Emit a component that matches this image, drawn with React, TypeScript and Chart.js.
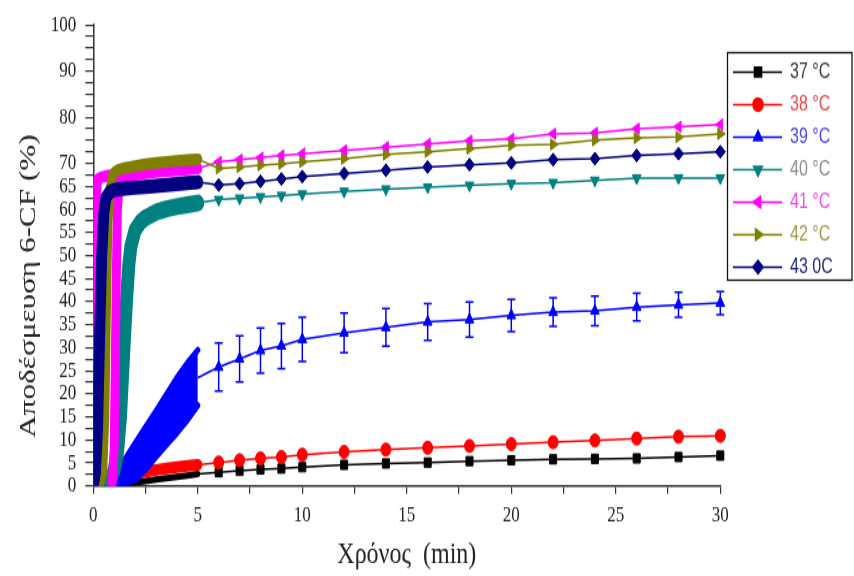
import { useEffect, useRef } from 'react';
import { Chart, registerables } from 'chart.js';
import { drawPoint } from 'chart.js/helpers';
Chart.register(...registerables);

// ---------- data ----------
const seriesNames = ['37 °C', '38 °C', '39 °C', '40 °C', '41 °C', '42 °C', '43 0C'];

// sparse sampling (min)
const sparseTimes = [6, 7, 8, 9, 10, 12, 14, 16, 18, 20, 22, 24, 26, 28, 30];
const s37 = [3.0, 3.3, 3.6, 3.8, 4.1, 4.6, 4.9, 5.1, 5.4, 5.6, 5.8, 5.9, 6.0, 6.3, 6.6];
const s38 = [5.1, 5.6, 6.0, 6.3, 6.8, 7.4, 7.9, 8.3, 8.7, 9.1, 9.5, 9.9, 10.3, 10.7, 10.9];
const s39 = [25.8, 27.6, 29.4, 30.4, 31.8, 33.2, 34.4, 35.6, 36.1, 37.0, 37.7, 38.0, 38.8, 39.3, 39.7];
const e39 = [5.2, 5.0, 4.9, 4.9, 4.8, 4.3, 4.1, 4.0, 3.8, 3.5, 3.1, 3.2, 3.0, 2.7, 2.5];
const s40 = [62.1, 62.4, 62.7, 63.0, 63.3, 63.9, 64.4, 64.8, 65.2, 65.6, 65.8, 66.3, 66.8, 66.8, 66.8];
const s41 = [70.3, 70.8, 71.2, 71.7, 72.1, 72.8, 73.5, 74.2, 74.9, 75.3, 76.4, 76.6, 77.5, 77.9, 78.4];
const s42 = [68.9, 69.2, 69.6, 69.9, 70.3, 71.0, 71.9, 72.5, 73.2, 73.9, 74.1, 75.0, 75.5, 75.7, 76.4];
const s43 = [65.3, 65.6, 66.1, 66.6, 67.1, 67.8, 68.5, 69.2, 69.7, 70.1, 70.8, 71.0, 71.7, 72.1, 72.5];

// dense sampling 0-5 min
const d37t = [0, 0.5, 1, 1.5, 2, 2.5, 3, 3.5, 4, 4.5, 5];
const d37v = [0, 0.05, 0.2, 0.5, 0.8, 1.1, 1.4, 1.7, 2.0, 2.3, 2.6];
const d38t = [0, 0.5, 1, 1.5, 2, 2.5, 3, 3.5, 4, 4.5, 5];
const d38v = [0, 0.4, 1.1, 2.0, 2.7, 3.1, 3.5, 3.8, 4.1, 4.4, 4.6];
const d39t = [0, 0.5, 1, 1.5, 2, 2.5, 3, 3.5, 4, 4.5, 5];
const d39v = [0, 0.5, 1.5, 3.2, 5.3, 8.2, 11.3, 14.4, 17.5, 20.5, 23.5];
const d39e = [0, 0.4, 1.2, 2.5, 4.0, 4.6, 5.0, 5.5, 6.0, 6.2, 6.0];
const d40t = [0, 0.4, 0.8, 1.0, 1.15, 1.3, 1.4, 1.5, 1.6, 1.7, 1.8, 2.0, 2.25, 2.5, 3.0, 3.5, 4.0, 4.5, 5.0];
const d40v = [0, 0.3, 1.2, 3.5, 7, 15, 24, 33, 41, 48, 52, 55.5, 57.2, 58.2, 59.4, 60.1, 60.6, 61.0, 61.4];
const d41aT = [0, 0.05, 0.1, 0.2, 0.4, 0.6, 0.8];
const d41aV = [0, 30, 60, 66.5, 67, 67.2, 67.4];
const d41bT = [0.9, 1.0, 1.05, 1.1, 1.15, 1.25, 1.5, 2, 2.5, 3, 3.5, 4, 4.5, 5];
const d41bV = [0.5, 8, 25, 45, 60, 66, 67, 67.5, 67.8, 68.1, 68.3, 68.5, 68.7, 68.9];
const d42t = [0, 0.3, 0.45, 0.55, 0.6, 0.65, 0.7, 0.8, 0.9, 1.0, 1.2, 1.5, 2, 2.5, 3, 3.5, 4, 4.5, 5];
const d42v = [0, 0.5, 3, 15, 30, 45, 57, 64, 67, 68, 68.6, 69, 69.4, 69.8, 70.1, 70.3, 70.5, 70.7, 70.9];
const d43t = [0, 0.1, 0.2, 0.3, 0.4, 0.5, 0.6, 0.8, 1.0, 1.5, 2, 2.5, 3, 3.5, 4, 4.5, 5];
const d43v = [0, 3, 12, 32, 50, 59, 62.5, 63.8, 64.2, 64.5, 64.7, 64.9, 65.1, 65.3, 65.5, 65.7, 65.9];

// axes
const xTickLabels = [0, 5, 10, 15, 20, 25, 30];
const xMinorStep = 2.5;
const yTickLabels = [0, 5, 10, 15, 20, 25, 30, 35, 40, 45, 50, 55, 60, 65, 70, 80, 90, 100];
const yMinorStep = 2.5;

// ---------- styles ----------
const W = 854;
const H = 443;
const STRETCH = 576 / H;
const colors = ['#000000', '#ff0000', '#0000ff', '#008080', '#ff00ff', '#808000', '#000080'];
const legendTextColors = ['#3a3a3a', '#f04848', '#4848f0', '#8e8e8e', '#f04cf0', '#9c9c48', '#262680'];
const pointStyles = ['rect', 'circle', 'triangle', 'triangle', 'triangle', 'triangle', 'rectRot'];
const rotations = [0, 0, 0, 180, -90, 90, 0];
const denseWidths = [5, 9, 5, 13, 9, 9, 11];

const pts = (ts: (number | null)[], vs: (number | null)[]) => ts.map((t, k) => ({ x: t, y: vs[k] }));

export default function App() {
  const ref = useRef<HTMLCanvasElement>(null);

  useEffect(() => {
    const denseSets: any[] = [
      pts(d37t, d37v),
      pts(d38t, d38v),
      null,
      pts(d40t, d40v),
      [...pts(d41aT, d41aV), { x: 0.85, y: null }, ...pts(d41bT, d41bV)],
      pts(d42t, d42v),
      pts(d43t, d43v),
    ];
    const sparseVals = [s37, s38, s39, s40, s41, s42, s43];
    const lastDense = [
      [d37t[d37t.length - 1], d37v[d37v.length - 1]],
      [d38t[d38t.length - 1], d38v[d38v.length - 1]],
      [d39t[d39t.length - 1], d39v[d39v.length - 1]],
      [d40t[d40t.length - 1], d40v[d40v.length - 1]],
      [d41bT[d41bT.length - 1], d41bV[d41bV.length - 1]],
      [d42t[d42t.length - 1], d42v[d42v.length - 1]],
      [d43t[d43t.length - 1], d43v[d43v.length - 1]],
    ];
    const denseClip = { left: 0, top: false, right: false, bottom: 0 };

    const datasets: any[] = [];
    for (let i = 0; i < 7; i++) {
      const c = colors[i];
      if (i === 2) {
        datasets.push({
          label: '39 upper',
          data: d39t.map((t, k) => ({ x: t, y: d39v[k] + d39e[k] })),
          borderColor: c,
          backgroundColor: c,
          borderWidth: 5,
          pointRadius: 0,
          fill: '+1',
          order: (6 - i) * 10 + 5,
          clip: denseClip,
          borderJoinStyle: 'round',
          borderCapStyle: 'round',
          isDense: true,
        });
        datasets.push({
          label: '39 lower',
          data: d39t.map((t, k) => ({ x: t, y: Math.max(0, d39v[k] - d39e[k]) })),
          borderColor: c,
          backgroundColor: c,
          borderWidth: 5,
          pointRadius: 0,
          fill: false,
          order: (6 - i) * 10 + 6,
          clip: denseClip,
          borderJoinStyle: 'round',
          borderCapStyle: 'round',
          isDense: true,
        });
      } else {
        datasets.push({
          label: seriesNames[i] + ' dense',
          data: denseSets[i],
          borderColor: c,
          backgroundColor: c,
          borderWidth: denseWidths[i],
          pointRadius: 0,
          spanGaps: false,
          fill: false,
          order: (6 - i) * 10 + 5,
          clip: denseClip,
          borderJoinStyle: 'round',
          borderCapStyle: 'round',
          isDense: true,
        });
      }
      datasets.push({
        label: seriesNames[i],
        data: [
          { x: lastDense[i][0], y: lastDense[i][1] },
          ...sparseTimes.map((t, k) => ({ x: t, y: sparseVals[i][k] })),
        ],
        errors: i === 2 ? [0, ...e39] : null,
        borderColor: c,
        backgroundColor: c,
        borderWidth: 1.5,
        pointRadius: (ctx: any) => (ctx.dataIndex === 0 ? 0 : 5),
        pointHoverRadius: 5,
        pointStyle: pointStyles[i],
        rotation: rotations[i],
        pointBorderWidth: 1,
        fill: false,
        order: (6 - i) * 10,
        clip: false,
      });
    }

    const errorBarPlugin = {
      id: 'errorBars',
      afterDatasetsDraw(chart: any) {
        const { ctx, scales } = chart;
        chart.data.datasets.forEach((ds: any) => {
          if (!ds.errors) return;
          ctx.save();
          ctx.strokeStyle = ds.borderColor;
          ctx.lineWidth = 1.5;
          ds.data.forEach((p: any, k: number) => {
            const e = ds.errors[k];
            if (!e) return;
            const x = scales.x.getPixelForValue(p.x);
            const y1 = scales.y.getPixelForValue(p.y + e);
            const y2 = scales.y.getPixelForValue(p.y - e);
            ctx.beginPath();
            ctx.moveTo(x, y1);
            ctx.lineTo(x, y2);
            ctx.moveTo(x - 4, y1);
            ctx.lineTo(x + 4, y1);
            ctx.moveTo(x - 4, y2);
            ctx.lineTo(x + 4, y2);
            ctx.stroke();
          });
          ctx.restore();
        });
      },
    };

    const overlayPlugin = {
      id: 'overlay',
      afterDraw(chart: any) {
        const { ctx } = chart;
        // y-axis title
        ctx.save();
        ctx.translate(29, 220);
        ctx.rotate(-Math.PI / 2);
        ctx.font = '24px "Liberation Serif", "Times New Roman", serif';
        ctx.fillStyle = '#222';
        ctx.textAlign = 'center';
        ctx.textBaseline = 'middle';
        ctx.fillText('Αποδέσμευση 6-CF (%)', 0, 0);
        ctx.restore();

        // legend
        ctx.save();
        const lx = 727.5, ly = 40.5, lw = 124.5, lh = 175;
        ctx.fillStyle = '#fff';
        ctx.fillRect(lx, ly, lw, lh);
        ctx.strokeStyle = '#111';
        ctx.lineWidth = 1.3;
        ctx.strokeRect(lx, ly, lw, lh);
        for (let i = 0; i < 7; i++) {
          const y = 55.4 + 25 * i;
          ctx.strokeStyle = colors[i];
          ctx.fillStyle = colors[i];
          ctx.lineWidth = 1.5;
          ctx.beginPath();
          ctx.moveTo(733, y);
          ctx.lineTo(782, y);
          ctx.stroke();
          drawPoint(ctx, { pointStyle: pointStyles[i], rotation: rotations[i], radius: 5, borderWidth: 1 } as any, 758, y);
          ctx.font = '16px "Liberation Sans", Arial, sans-serif';
          ctx.fillStyle = legendTextColors[i];
          ctx.textAlign = 'left';
          ctx.textBaseline = 'middle';
          ctx.fillText(seriesNames[i], 790, y);
        }
        ctx.restore();
      },
    };

    const tickFont = { family: '"Liberation Serif", "Times New Roman", serif', size: 17 };

    const chart = new Chart(ref.current as HTMLCanvasElement, {
      type: 'line',
      data: { datasets },
      options: {
        responsive: false,
        maintainAspectRatio: false,
        devicePixelRatio: 1,
        animation: false,
        events: [],
        layout: { padding: { left: 0, top: 16.9, right: 133.7, bottom: 0 } },
        plugins: {
          legend: { display: false },
          tooltip: { enabled: false },
        },
        scales: {
          x: {
            type: 'linear',
            min: 0,
            max: 30,
            z: 1,
            afterFit: (s: any) => { s.height = 69.2; },
            afterBuildTicks: (s: any) => {
              const t = [];
              for (let v = 0; v <= 30 + 1e-9; v += xMinorStep) t.push({ value: v });
              s.ticks = t;
            },
            ticks: {
              autoSkip: false,
              maxRotation: 0,
              padding: 7,
              color: '#222',
              font: tickFont,
              callback: (v: any) => (xTickLabels.includes(Number(v)) ? String(v) : ''),
            },
            grid: { display: true, drawOnChartArea: false, drawTicks: true, tickLength: 6, color: '#333', lineWidth: 1.2 },
            border: { display: true, color: '#333', width: 1.5 },
            title: {
              display: true,
              text: 'Χρόνος  (min)',
              color: '#222',
              font: { family: '"Liberation Serif", "Times New Roman", serif', size: 24 },
              padding: { top: 0, bottom: 2 },
            },
          },
          y: {
            type: 'linear',
            min: 0,
            max: 100,
            z: 1,
            afterFit: (s: any) => { s.width = 93.3; },
            afterBuildTicks: (s: any) => {
              const t = [];
              for (let v = 0; v <= 100 + 1e-9; v += yMinorStep) t.push({ value: v });
              s.ticks = t;
            },
            ticks: {
              autoSkip: false,
              padding: 9,
              color: '#222',
              font: tickFont,
              callback: (v: any) => (yTickLabels.includes(Number(v)) ? String(v) : ''),
            },
            grid: { display: true, drawOnChartArea: false, drawTicks: true, tickLength: 8, color: '#333', lineWidth: 1.2 },
            border: { display: true, color: '#333', width: 1.5 },
            title: { display: false },
          },
        },
      } as any,
      plugins: [errorBarPlugin, overlayPlugin],
    });
    return () => chart.destroy();
  }, []);

  return (
    <div style={{ position: 'absolute', left: 0, top: 0, width: 854, height: 576, overflow: 'hidden', background: '#fff' }}>
      <div style={{ width: W, height: H, transform: `scaleY(${STRETCH})`, transformOrigin: '0 0' }}>
        <canvas ref={ref} width={W} height={H} style={{ display: 'block', width: W, height: H }} />
      </div>
    </div>
  );
}
